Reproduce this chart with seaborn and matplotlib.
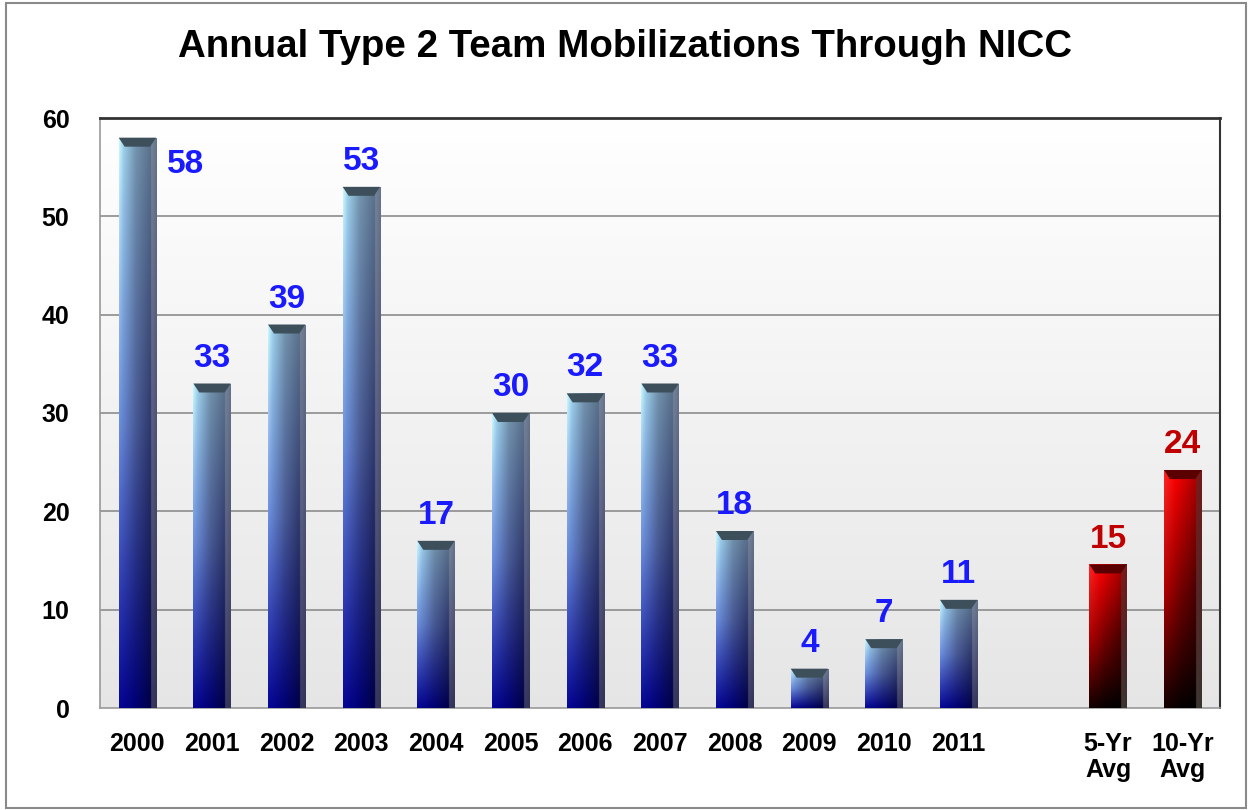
import numpy as np
import pandas as pd
import matplotlib
matplotlib.use("Agg")
import matplotlib.pyplot as plt
import seaborn as sns
from matplotlib.patches import Polygon, Rectangle

categories = ["2000", "2001", "2002", "2003", "2004", "2005", "2006", "2007",
              "2008", "2009", "2010", "2011", "", "5-Yr\nAvg", "10-Yr\nAvg"]
values = [58, 33, 39, 53, 17, 30, 32, 33, 18, 4, 7, 11, 0, 14.6, 24.2]
labels = ["58", "33", "39", "53", "17", "30", "32", "33", "18", "4", "7", "11", "", "15", "24"]
kind = ["year"] * 12 + ["gap"] + ["avg"] * 2

df = pd.DataFrame({"cat": categories, "val": values, "kind": kind})

sns.set_style("white")
plt.rcParams["font.family"] = ["Liberation Sans", "DejaVu Sans"]
plt.rcParams["text.color"] = "black"
plt.rcParams["xtick.color"] = "black"
plt.rcParams["ytick.color"] = "black"

fig = plt.figure(figsize=(12.52, 8.10), dpi=100)
ax = fig.add_axes([100 / 1252, 102 / 810, 1120 / 1252, 590 / 810])

sns.barplot(data=df, x="cat", y="val", hue="kind",
            palette={"year": "#1f3fa0", "avg": "#cc0000", "gap": "#ffffff"},
            order=categories, width=0.5, legend=False, ax=ax, zorder=3)

n_cat = len(categories)

# background gradient: white at top -> light grey at bottom
bg = np.linspace(1.0, 0.9, 256)[:, None] * np.ones((1, 2))
ax.imshow(np.dstack([bg, bg, bg]), extent=[-0.5, n_cat - 0.5, 0, 60],
          aspect="auto", zorder=0, origin="upper")


def row(stops, s):
    xs = [p[0] for p in stops]
    return np.stack([np.interp(s, xs, [p[1][c] for p in stops]) for c in range(3)], axis=-1)


def bar_image(scheme, n=200, m=80):
    s = np.linspace(0, 1, m)
    t = np.linspace(0, 1, n)[:, None, None]  # 0 top -> 1 bottom
    if scheme == "year":
        top = row([(0.0, (0.80, 0.98, 1.0)), (0.12, (0.62, 0.82, 0.92)),
                   (0.45, (0.45, 0.58, 0.68)), (0.84, (0.36, 0.45, 0.55)),
                   (0.86, (0.46, 0.52, 0.60)), (1.0, (0.40, 0.45, 0.55))], s)
        mid = row([(0.0, (0.42, 0.56, 0.88)), (0.45, (0.28, 0.35, 0.58)),
                   (0.84, (0.18, 0.22, 0.42)), (0.86, (0.35, 0.38, 0.52)),
                   (1.0, (0.30, 0.32, 0.45))], s)
        bot = row([(0.0, (0.02, 0.02, 0.60)), (0.45, (0.0, 0.0, 0.45)),
                   (0.84, (0.0, 0.0, 0.28)), (0.86, (0.22, 0.22, 0.38)),
                   (1.0, (0.20, 0.20, 0.33))], s)
    else:
        top = row([(0.0, (1.0, 0.15, 0.15)), (0.3, (1.0, 0.0, 0.0)),
                   (0.84, (0.70, 0.0, 0.0)), (0.86, (0.50, 0.10, 0.10)),
                   (1.0, (0.45, 0.10, 0.10))], s)
        mid = row([(0.0, (0.70, 0.0, 0.0)), (0.45, (0.45, 0.0, 0.0)),
                   (0.84, (0.30, 0.0, 0.0)), (0.86, (0.35, 0.15, 0.15)),
                   (1.0, (0.30, 0.15, 0.15))], s)
        bot = row([(0.0, (0.08, 0.0, 0.0)), (0.45, (0.02, 0.0, 0.0)),
                   (0.84, (0.0, 0.0, 0.0)), (0.86, (0.25, 0.22, 0.20)),
                   (1.0, (0.22, 0.20, 0.18))], s)
    w1 = np.clip(1 - 2 * t, 0, 1)
    w3 = np.clip(2 * t - 1, 0, 1)
    w2 = 1 - w1 - w3
    col = w1 * top[None] + w2 * mid[None] + w3 * bot[None]
    return np.clip(col, 0, 1)


# pixel size in data units
px_y = 60 / 590.0
for patch in ax.patches:
    h = patch.get_height()
    if h <= 0:
        patch.set_visible(False)
        continue
    x0, w = patch.get_x(), patch.get_width()
    fc = patch.get_facecolor()
    scheme = "avg" if fc[0] > 0.6 else "year"
    img = bar_image(scheme)
    im = ax.imshow(img, extent=[x0, x0 + w, 0, h], aspect="auto",
                   origin="upper", zorder=3)
    im.set_clip_path(patch)
    patch.set_facecolor("none")
    patch.set_edgecolor("none")
    # bevelled top
    d = 9 * px_y
    inset = 0.16 * w
    capc = "#3c4f5a" if scheme == "year" else "#5a0000"
    ax.add_patch(Polygon([[x0, h], [x0 + w, h], [x0 + w - inset, h - d], [x0 + inset, h - d]],
                         closed=True, facecolor=capc, edgecolor="none", zorder=4))

ax.set_ylim(0, 60)
ax.set_xlim(-0.5, n_cat - 0.5)

# value labels
for i, (v, lab, k) in enumerate(zip(values, labels, kind)):
    if not lab:
        continue
    color = "#1a1aff" if k == "year" else "#c00000"
    if v > 56:
        ax.text(i + 0.4, v - 2.7, lab, ha="left", va="center",
                fontsize=24, fontweight="bold", color=color, zorder=5)
    else:
        ax.text(i, v + 1.0, lab, ha="center", va="bottom",
                fontsize=24, fontweight="bold", color=color, zorder=5)

# grid, spines and ticks
ax.set_yticks(range(0, 61, 10))
for y in range(10, 60, 10):
    ax.axhline(y, color="#8c8c8c", lw=1.2, zorder=1)
ax.spines["top"].set_color("#333333")
ax.spines["top"].set_linewidth(2)
ax.spines["right"].set_color("#333333")
ax.spines["right"].set_linewidth(1.5)
for side in ("left", "bottom"):
    ax.spines[side].set_color("#999999")
    ax.spines[side].set_linewidth(1.2)

ax.set_xticks(np.arange(n_cat))
ax.set_xticklabels(categories, fontsize=18, fontweight="bold", linespacing=1.15,
                   va="top")
ax.set_xticks(np.arange(-0.5, n_cat, 1.0), minor=True)
ax.tick_params(axis="x", which="major", length=0, pad=17)
ax.tick_params(axis="x", which="minor", length=7, color="#999999", width=1.2)
ax.tick_params(axis="y", length=8, color="#999999", width=1.2, labelsize=18, pad=14)
for t in ax.get_yticklabels():
    t.set_fontweight("bold")
ax.set_xlabel("")
ax.set_ylabel("")

fig.text(625 / 1252, 1 - 47 / 810, "Annual Type 2 Team Mobilizations Through NICC",
         ha="center", va="center", fontsize=27.7, fontweight="bold", color="black")

fig.add_artist(Rectangle((6 / 1252, 2 / 810), 1240 / 1252, 805 / 810,
                         transform=fig.transFigure, fill=False,
                         edgecolor="#8a8a8a", lw=1.5))

fig.savefig("out.png", dpi=100)
